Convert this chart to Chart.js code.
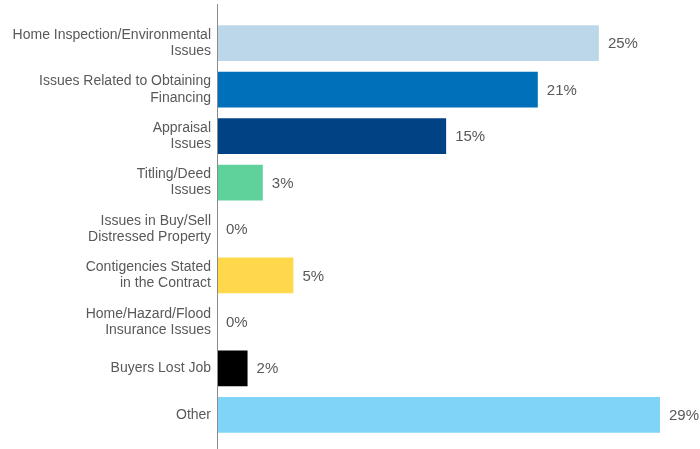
<!DOCTYPE html>
<html lang="en">
<head>
  <meta charset="UTF-8">
  <title>Reasons for contract problems</title>
  <script src="https://cdn.jsdelivr.net/npm/chart.js"></script>
  <style>
    body { margin: 0; background: #fff; }
    #wrap { width: 700px; height: 449px; }
  </style>
</head>
<body>
  <div id="wrap">
    <canvas id="chart" width="700" height="449"></canvas>
  </div>
  <script>

const labels = [
  ['Home Inspection/Environmental', 'Issues'],
  ['Issues Related to Obtaining', 'Financing'],
  ['Appraisal', 'Issues'],
  ['Titling/Deed', 'Issues'],
  ['Issues in Buy/Sell', 'Distressed Property'],
  ['Contigencies Stated', 'in the Contract'],
  ['Home/Hazard/Flood', 'Insurance Issues'],
  'Buyers Lost Job',
  'Other'
];
const shares = [25, 21, 15, 3, 0, 5, 0, 2, 29];
const barColors = ['#BDD7EA', '#0070BA', '#004283', '#5FD29B', '#FFFFFF', '#FFD84C', '#FFFFFF', '#000000', '#7FD4F8'];

// vertical axis line runs past the bars, like the original
const axisLine = {
  id: 'axisLine',
  afterDraw(chart) {
    const ctx = chart.ctx;
    const x = chart.chartArea.left + 0.5;
    ctx.save();
    ctx.strokeStyle = '#8c8c8c';
    ctx.lineWidth = 1;
    ctx.beginPath();
    ctx.moveTo(x, 4);
    ctx.lineTo(x, 449);
    ctx.stroke();
    ctx.restore();
  }
};

const valueLabels = {
  id: 'valueLabels',
  afterDatasetsDraw(chart) {
    const ctx = chart.ctx;
    const meta = chart.getDatasetMeta(0);
    ctx.save();
    ctx.font = '15px "Liberation Sans", Arial, sans-serif';
    ctx.fillStyle = '#595959';
    ctx.textBaseline = 'middle';
    ctx.textAlign = 'left';
    meta.data.forEach((bar, i) => {
      ctx.fillText(shares[i] + '%', bar.x + 9, bar.y + 1);
    });
    ctx.restore();
  }
};

new Chart(document.getElementById('chart'), {
  type: 'bar',
  data: {
    labels: labels,
    datasets: [{
      data: shares,
      backgroundColor: barColors,
      borderWidth: 0,
      barPercentage: 0.77,
      categoryPercentage: 1
    }]
  },
  options: {
    indexAxis: 'y',
    responsive: false,
    animation: false,
    layout: { padding: { top: 20, bottom: 11, left: 0, right: 40 } },
    plugins: {
      legend: { display: false },
      tooltip: { enabled: false }
    },
    scales: {
      x: {
        display: false,
        min: 0,
        max: 29
      },
      y: {
        grid: { display: false, drawTicks: false },
        border: { display: false },
        afterFit(scale) {
          scale.width = 217;
          scale.paddingTop = 0;
          scale.paddingBottom = 0;
        },
        ticks: {
          padding: 6,
          color: '#595959',
          font: { family: '"Liberation Sans", Arial, sans-serif', size: 14, lineHeight: 1.15 }
        }
      }
    }
  },
  plugins: [axisLine, valueLabels]
});

  </script>
</body>
</html>
